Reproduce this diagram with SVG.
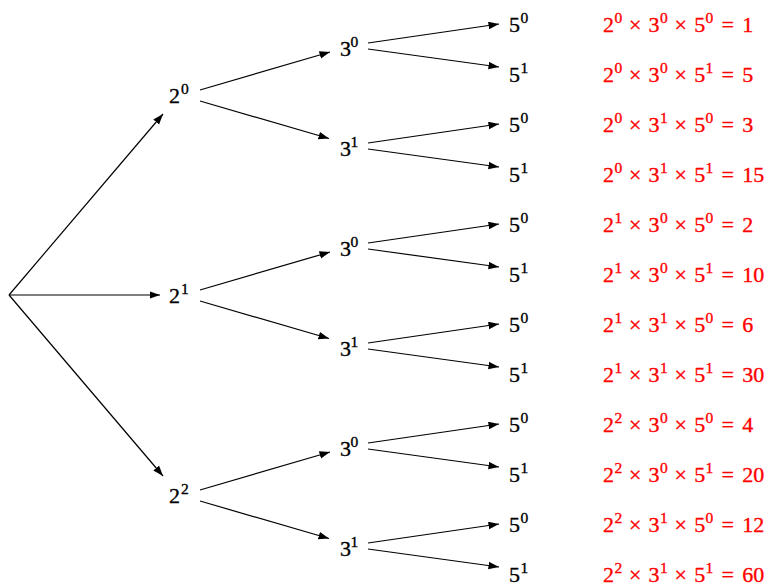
<svg xmlns="http://www.w3.org/2000/svg" width="767" height="587" viewBox="0 0 767 587">
<style>
.t{font-family:"Liberation Serif","Times New Roman",serif;font-size:22px;fill:#000;stroke:#000;stroke-width:0.35}
.r{fill:#ff0000;stroke:#ff0000}
.s{font-size:15.5px}
.e{stroke:#000;stroke-width:1.2;fill:none;marker-end:url(#ah)}
</style>
<defs>
<marker id="ah" markerUnits="userSpaceOnUse" markerWidth="11" markerHeight="8" refX="10.5" refY="3.75" orient="auto">
<path d="M0,0 L10.5,3.75 L0,7.5 z" fill="#000"/>
</marker>
</defs>
<rect width="767" height="587" fill="#fff"/>
<g id="connectors">
<line class="e" x1="9" y1="295" x2="163" y2="114"/>
<line class="e" x1="9" y1="295" x2="160" y2="295"/>
<line class="e" x1="9" y1="295" x2="163" y2="476"/>
<line class="e" x1="200" y1="90" x2="330" y2="52"/>
<line class="e" x1="200" y1="101" x2="329" y2="138.5"/>
<line class="e" x1="200" y1="290" x2="330" y2="252"/>
<line class="e" x1="200" y1="301" x2="329" y2="338.5"/>
<line class="e" x1="200" y1="490" x2="330" y2="452"/>
<line class="e" x1="200" y1="501" x2="329" y2="538.5"/>
<line class="e" x1="368" y1="43" x2="499" y2="24"/>
<line class="e" x1="368" y1="49" x2="499" y2="67"/>
<line class="e" x1="368" y1="143" x2="499" y2="124"/>
<line class="e" x1="368" y1="149" x2="499" y2="167"/>
<line class="e" x1="368" y1="243" x2="499" y2="224"/>
<line class="e" x1="368" y1="249" x2="499" y2="267"/>
<line class="e" x1="368" y1="343" x2="499" y2="324"/>
<line class="e" x1="368" y1="349" x2="499" y2="367"/>
<line class="e" x1="368" y1="443" x2="499" y2="424"/>
<line class="e" x1="368" y1="449" x2="499" y2="467"/>
<line class="e" x1="368" y1="543" x2="499" y2="524"/>
<line class="e" x1="368" y1="549" x2="499" y2="567"/>
</g>
<g id="n2_0"><text class="t" x="169" y="103">2<tspan class="s" x="181" y="94">0</tspan></text></g>
<g id="n2_1"><text class="t" x="169" y="303">2<tspan class="s" x="181" y="294">1</tspan></text></g>
<g id="n2_2"><text class="t" x="169" y="503">2<tspan class="s" x="181" y="494">2</tspan></text></g>
<g id="n3_a0"><text class="t" x="340" y="56">3<tspan class="s" x="350.5" y="47">0</tspan></text></g>
<g id="n3_a1"><text class="t" x="340" y="156">3<tspan class="s" x="350.5" y="147">1</tspan></text></g>
<g id="n3_b0"><text class="t" x="340" y="256">3<tspan class="s" x="350.5" y="247">0</tspan></text></g>
<g id="n3_b1"><text class="t" x="340" y="356">3<tspan class="s" x="350.5" y="347">1</tspan></text></g>
<g id="n3_c0"><text class="t" x="340" y="456">3<tspan class="s" x="350.5" y="447">0</tspan></text></g>
<g id="n3_c1"><text class="t" x="340" y="556">3<tspan class="s" x="350.5" y="547">1</tspan></text></g>
<g id="n5_0"><text class="t" x="509" y="32">5<tspan class="s" x="520.5" y="23">0</tspan></text></g>
<g id="n5_1"><text class="t" x="509" y="82">5<tspan class="s" x="520.5" y="73">1</tspan></text></g>
<g id="n5_2"><text class="t" x="509" y="132">5<tspan class="s" x="520.5" y="123">0</tspan></text></g>
<g id="n5_3"><text class="t" x="509" y="182">5<tspan class="s" x="520.5" y="173">1</tspan></text></g>
<g id="n5_4"><text class="t" x="509" y="232">5<tspan class="s" x="520.5" y="223">0</tspan></text></g>
<g id="n5_5"><text class="t" x="509" y="282">5<tspan class="s" x="520.5" y="273">1</tspan></text></g>
<g id="n5_6"><text class="t" x="509" y="332">5<tspan class="s" x="520.5" y="323">0</tspan></text></g>
<g id="n5_7"><text class="t" x="509" y="382">5<tspan class="s" x="520.5" y="373">1</tspan></text></g>
<g id="n5_8"><text class="t" x="509" y="432">5<tspan class="s" x="520.5" y="423">0</tspan></text></g>
<g id="n5_9"><text class="t" x="509" y="482">5<tspan class="s" x="520.5" y="473">1</tspan></text></g>
<g id="n5_10"><text class="t" x="509" y="532">5<tspan class="s" x="520.5" y="523">0</tspan></text></g>
<g id="n5_11"><text class="t" x="509" y="582">5<tspan class="s" x="520.5" y="573">1</tspan></text></g>
<g id="results">
<text class="t r" x="603" y="32">2<tspan class="s" x="614.5" y="23">0</tspan><tspan x="629" y="32">×</tspan><tspan x="648.6" y="32">3</tspan><tspan class="s" x="660" y="23">0</tspan><tspan x="674.6" y="32">×</tspan><tspan x="694.2" y="32">5</tspan><tspan class="s" x="705.5" y="23">0</tspan><tspan x="721.4" y="32">=</tspan><tspan x="742.2" y="32">1</tspan></text>
<text class="t r" x="603" y="82">2<tspan class="s" x="614.5" y="73">0</tspan><tspan x="629" y="82">×</tspan><tspan x="648.6" y="82">3</tspan><tspan class="s" x="660" y="73">0</tspan><tspan x="674.6" y="82">×</tspan><tspan x="694.2" y="82">5</tspan><tspan class="s" x="705.5" y="73">1</tspan><tspan x="721.4" y="82">=</tspan><tspan x="742.2" y="82">5</tspan></text>
<text class="t r" x="603" y="132">2<tspan class="s" x="614.5" y="123">0</tspan><tspan x="629" y="132">×</tspan><tspan x="648.6" y="132">3</tspan><tspan class="s" x="660" y="123">1</tspan><tspan x="674.6" y="132">×</tspan><tspan x="694.2" y="132">5</tspan><tspan class="s" x="705.5" y="123">0</tspan><tspan x="721.4" y="132">=</tspan><tspan x="742.2" y="132">3</tspan></text>
<text class="t r" x="603" y="182">2<tspan class="s" x="614.5" y="173">0</tspan><tspan x="629" y="182">×</tspan><tspan x="648.6" y="182">3</tspan><tspan class="s" x="660" y="173">1</tspan><tspan x="674.6" y="182">×</tspan><tspan x="694.2" y="182">5</tspan><tspan class="s" x="705.5" y="173">1</tspan><tspan x="721.4" y="182">=</tspan><tspan x="742.2" y="182">15</tspan></text>
<text class="t r" x="603" y="232">2<tspan class="s" x="614.5" y="223">1</tspan><tspan x="629" y="232">×</tspan><tspan x="648.6" y="232">3</tspan><tspan class="s" x="660" y="223">0</tspan><tspan x="674.6" y="232">×</tspan><tspan x="694.2" y="232">5</tspan><tspan class="s" x="705.5" y="223">0</tspan><tspan x="721.4" y="232">=</tspan><tspan x="742.2" y="232">2</tspan></text>
<text class="t r" x="603" y="282">2<tspan class="s" x="614.5" y="273">1</tspan><tspan x="629" y="282">×</tspan><tspan x="648.6" y="282">3</tspan><tspan class="s" x="660" y="273">0</tspan><tspan x="674.6" y="282">×</tspan><tspan x="694.2" y="282">5</tspan><tspan class="s" x="705.5" y="273">1</tspan><tspan x="721.4" y="282">=</tspan><tspan x="742.2" y="282">10</tspan></text>
<text class="t r" x="603" y="332">2<tspan class="s" x="614.5" y="323">1</tspan><tspan x="629" y="332">×</tspan><tspan x="648.6" y="332">3</tspan><tspan class="s" x="660" y="323">1</tspan><tspan x="674.6" y="332">×</tspan><tspan x="694.2" y="332">5</tspan><tspan class="s" x="705.5" y="323">0</tspan><tspan x="721.4" y="332">=</tspan><tspan x="742.2" y="332">6</tspan></text>
<text class="t r" x="603" y="382">2<tspan class="s" x="614.5" y="373">1</tspan><tspan x="629" y="382">×</tspan><tspan x="648.6" y="382">3</tspan><tspan class="s" x="660" y="373">1</tspan><tspan x="674.6" y="382">×</tspan><tspan x="694.2" y="382">5</tspan><tspan class="s" x="705.5" y="373">1</tspan><tspan x="721.4" y="382">=</tspan><tspan x="742.2" y="382">30</tspan></text>
<text class="t r" x="603" y="432">2<tspan class="s" x="614.5" y="423">2</tspan><tspan x="629" y="432">×</tspan><tspan x="648.6" y="432">3</tspan><tspan class="s" x="660" y="423">0</tspan><tspan x="674.6" y="432">×</tspan><tspan x="694.2" y="432">5</tspan><tspan class="s" x="705.5" y="423">0</tspan><tspan x="721.4" y="432">=</tspan><tspan x="742.2" y="432">4</tspan></text>
<text class="t r" x="603" y="482">2<tspan class="s" x="614.5" y="473">2</tspan><tspan x="629" y="482">×</tspan><tspan x="648.6" y="482">3</tspan><tspan class="s" x="660" y="473">0</tspan><tspan x="674.6" y="482">×</tspan><tspan x="694.2" y="482">5</tspan><tspan class="s" x="705.5" y="473">1</tspan><tspan x="721.4" y="482">=</tspan><tspan x="742.2" y="482">20</tspan></text>
<text class="t r" x="603" y="532">2<tspan class="s" x="614.5" y="523">2</tspan><tspan x="629" y="532">×</tspan><tspan x="648.6" y="532">3</tspan><tspan class="s" x="660" y="523">1</tspan><tspan x="674.6" y="532">×</tspan><tspan x="694.2" y="532">5</tspan><tspan class="s" x="705.5" y="523">0</tspan><tspan x="721.4" y="532">=</tspan><tspan x="742.2" y="532">12</tspan></text>
<text class="t r" x="603" y="582">2<tspan class="s" x="614.5" y="573">2</tspan><tspan x="629" y="582">×</tspan><tspan x="648.6" y="582">3</tspan><tspan class="s" x="660" y="573">1</tspan><tspan x="674.6" y="582">×</tspan><tspan x="694.2" y="582">5</tspan><tspan class="s" x="705.5" y="573">1</tspan><tspan x="721.4" y="582">=</tspan><tspan x="742.2" y="582">60</tspan></text>
</g>
</svg>
